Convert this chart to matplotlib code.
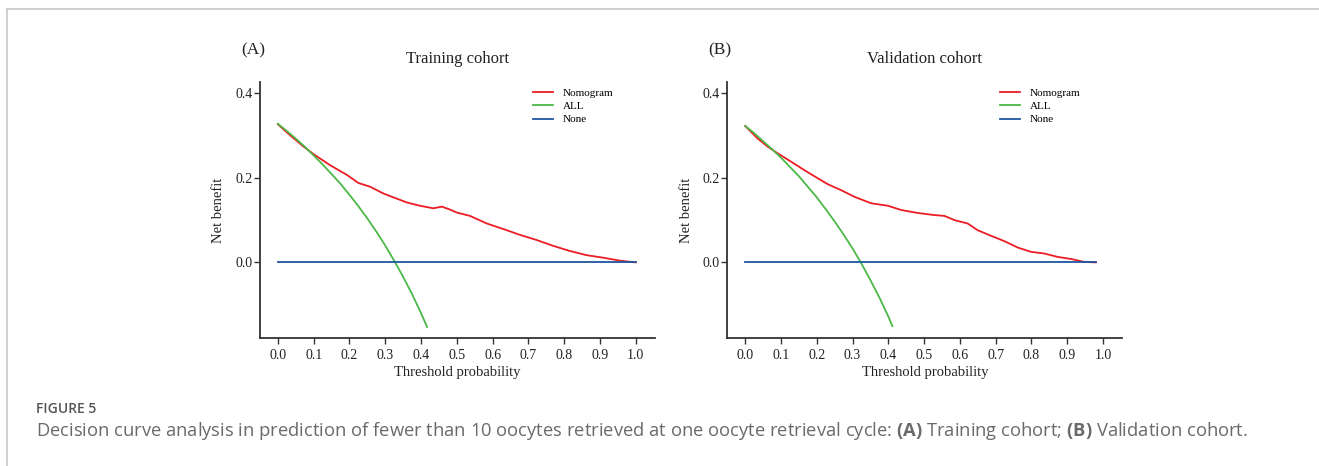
import matplotlib
matplotlib.use("Agg")
import matplotlib.pyplot as plt
from matplotlib.lines import Line2D

# decision curve data
thr_nomo_train = [0.0, 0.034, 0.072, 0.100, 0.146, 0.193, 0.225, 0.258, 0.295, 0.332, 0.360,
                  0.397, 0.435, 0.458, 0.481, 0.500, 0.537, 0.584, 0.630, 0.677, 0.723, 0.770,
                  0.816, 0.863, 0.910, 0.956, 1.0]
nb_nomo_train = [0.327, 0.301, 0.274, 0.256, 0.230, 0.207, 0.188, 0.179, 0.163, 0.151, 0.142,
                 0.134, 0.128, 0.132, 0.125, 0.118, 0.110, 0.092, 0.079, 0.065, 0.053, 0.039,
                 0.027, 0.017, 0.011, 0.004, 0.0]

thr_nomo_valid = [0.0, 0.035, 0.063, 0.091, 0.129, 0.166, 0.203, 0.231, 0.268, 0.306, 0.352,
                  0.399, 0.436, 0.482, 0.529, 0.557, 0.585, 0.622, 0.650, 0.687, 0.725, 0.762,
                  0.799, 0.836, 0.873, 0.911, 0.948, 0.980]
nb_nomo_valid = [0.323, 0.293, 0.274, 0.258, 0.238, 0.218, 0.199, 0.185, 0.171, 0.155, 0.140,
                 0.134, 0.124, 0.117, 0.112, 0.110, 0.100, 0.092, 0.076, 0.063, 0.050, 0.035,
                 0.025, 0.021, 0.013, 0.008, 0.001, 0.0]

thr_all_train = [0.0, 0.025, 0.05, 0.075, 0.1, 0.125, 0.15, 0.175, 0.2, 0.225, 0.25, 0.275,
                 0.3, 0.325, 0.35, 0.375, 0.4, 0.417]
nb_all_train = [0.328, 0.311, 0.293, 0.274, 0.253, 0.232, 0.209, 0.186, 0.160, 0.133, 0.104,
                0.073, 0.040, 0.004, -0.034, -0.075, -0.120, -0.153]

thr_all_valid = [0.0, 0.025, 0.05, 0.075, 0.1, 0.125, 0.15, 0.175, 0.2, 0.225, 0.25, 0.275,
                 0.3, 0.325, 0.35, 0.375, 0.4, 0.4115]
nb_all_valid = [0.323, 0.306, 0.287, 0.268, 0.248, 0.226, 0.204, 0.179, 0.154, 0.126, 0.097,
                0.066, 0.033, -0.003, -0.042, -0.083, -0.128, -0.151]

thr_none_train = [0.0, 1.0]
thr_none_valid = [0.0, 0.98]
nb_none = [0.0, 0.0]

xticks = [0.0, 0.1, 0.2, 0.3, 0.4, 0.5, 0.6, 0.7, 0.8, 0.9, 1.0]
yticks = [0.0, 0.2, 0.4]
legend_labels = ["Nomogram", "ALL", "None"]

RED = "#ec1c24"
GREEN = "#4cb848"
BLUE = "#1d56a0"
serif = "Liberation Serif"
cap = "Open Sans"

# bold (A)/(B) inside the caption via mathtext
plt.rcParams["mathtext.fontset"] = "custom"
plt.rcParams["mathtext.rm"] = cap
plt.rcParams["mathtext.bf"] = cap + ":bold"

fig = plt.figure(figsize=(13.19, 4.66), dpi=100)

panels = [
    ("(A)", "Training cohort", 260, thr_nomo_train, nb_nomo_train, thr_all_train, nb_all_train, thr_none_train),
    ("(B)", "Validation cohort", 727.3, thr_nomo_valid, nb_nomo_valid, thr_all_valid, nb_all_valid, thr_none_valid),
]

for tag, title, left_px, tn, nn, ta, na, t0 in panels:
    ax = fig.add_axes([left_px / 1319, (466 - 338) / 466, 395 / 1319, 256 / 466])
    ax.plot(tn, nn, color=RED, lw=1.3)
    ax.plot(ta, na, color=GREEN, lw=1.3)
    ax.plot(t0, nb_none, color=BLUE, lw=1.3)
    ax.set_xlim(-0.05, 1.054)
    ax.set_ylim(-0.179, 0.427)
    ax.set_xticks(xticks)
    ax.set_yticks(yticks)
    ax.set_xticklabels(["%.1f" % v for v in xticks], family=serif, fontsize=10)
    ax.set_yticklabels(["%.1f" % v for v in yticks], family=serif, fontsize=10)
    ax.tick_params(direction="out", length=4, width=1, color="#333333", labelcolor="#222222")
    ax.tick_params(axis="x", pad=4)
    ax.tick_params(axis="y", pad=1.5)
    for s in ["top", "right"]:
        ax.spines[s].set_visible(False)
    for s in ["left", "bottom"]:
        ax.spines[s].set_linewidth(1.3)
        ax.spines[s].set_color("#333333")
    ax.set_xlabel("Threshold probability", family=serif, fontsize=10.5, color="#222222")
    ax.set_ylabel("Net benefit", family=serif, fontsize=10.5, color="#222222")
    ax.xaxis.label.set_va("center")
    ax.yaxis.label.set_va("center")
    ax.xaxis.set_label_coords(0.5, -0.133)
    ax.yaxis.set_label_coords(-0.104, 0.5)
    ax.text(0.5, 1.09, title, transform=ax.transAxes, ha="center", va="center",
            family=serif, fontsize=12, color="#222222")
    ax.text(-0.018, 1.125, tag, transform=ax.transAxes, ha="center", va="center",
            family=serif, fontsize=12.5, color="#222222")
    handles = [Line2D([], [], color=c, lw=1.3) for c in (RED, GREEN, BLUE)]
    ax.legend(handles, legend_labels, loc="upper left", bbox_to_anchor=(0.69, 0.975),
              frameon=False, prop={"family": serif, "size": 8}, handlelength=1.8,
              handletextpad=0.9, labelspacing=0.3, borderpad=0, borderaxespad=0)

# page frame lines
fig.add_artist(Line2D([6.5 / 1319, 6.5 / 1319], [0, 1 - 9.3 / 466], color="#c8c8c8", lw=1.2))
fig.add_artist(Line2D([6.5 / 1319, 1], [1 - 9.3 / 466, 1 - 9.3 / 466], color="#c8c8c8", lw=1.2))

# caption
fig.text(36 / 1319, 1 - 409 / 466, "FIGURE 5", family=cap, fontsize=10, weight="semibold",
         color="#555555", va="center", ha="left")
fig.text(36 / 1319, 1 - 431 / 466,
         "Decision curve analysis in prediction of fewer than 10 oocytes retrieved at one oocyte "
         "retrieval cycle: $\\mathbf{(A)}$ Training cohort; $\\mathbf{(B)}$ Validation cohort.",
         family=cap, fontsize=13.2, color="#6a6a6a", va="center", ha="left")

fig.savefig("out.png", dpi=100)
